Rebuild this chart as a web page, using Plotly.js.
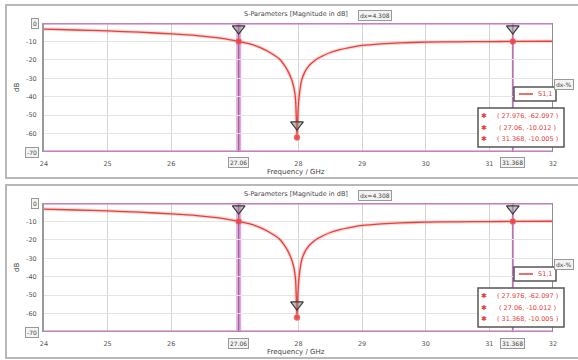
<!DOCTYPE html>
<html>
<head>
<meta charset="utf-8">
<script src="https://cdn.plot.ly/plotly-3.0.1.min.js"></script>
<style>
html,body{margin:0;padding:0;background:#fff;}
#chart{width:578px;height:360px;}
</style>
</head>
<body>
<div id="chart"></div>
<script>
// ---- data ----
const freq = [24, 24.5, 25, 25.5, 26, 26.4, 26.8, 27.06, 27.25, 27.4, 27.55, 27.7, 27.78, 27.84, 27.89, 27.93, 27.955, 27.976, 27.995, 28.02, 28.05, 28.1, 28.15, 28.2, 28.3, 28.4, 28.5, 28.65, 28.8, 29, 29.3, 29.6, 30, 30.5, 31, 31.368, 32];
const s11 = [-3.3, -3.8, -4.3, -5.0, -5.9, -6.8, -8.3, -10.0, -11.5, -13.4, -16.0, -19.5, -23.0, -26.5, -30.5, -35.5, -42.0, -62.1, -46.0, -37.0, -31.0, -26.5, -23.8, -22.0, -19.3, -17.5, -16.0, -14.5, -13.4, -12.2, -11.3, -10.8, -10.4, -10.2, -10.1, -10.0, -9.9];
const markerX = [27.976, 27.06, 31.368];
const markerY = [-62.097, -10.012, -10.005];
const markerText = ['( 27.976, -62.097 )', '( 27.06, -10.012 )', '( 31.368, -10.005 )'];
const vLineX = [27.06, 31.368];
const vLineLabels = ['27.06', '31.368'];
const xTickVals = [24, 25, 26, 28, 29, 30, 31, 32];
const yTickVals = [-60, -50, -40, -30, -20, -10];
const titleText = 'S-Parameters [Magnitude in dB]';
const dxText = 'dx=4.308';
const seriesName = 'S1,1';

// ---- layout helpers ----
const W = 578, H = 360, ML = 44, MR = 25, MT = 23, MB = 28;
const PW = W - ML - MR, PH = H - MT - MB;
const px = x => (x - ML) / PW;
const py = y => (H - MB - y) / PH;

const panels = [
  {xa: 'x', ya: 'y', off: 0},
  {xa: 'x2', ya: 'y2', off: 180}
];

const RED = '#e5403a';
const PURPLE = '#a4529c';
const data = [];
const shapes = [];
const annotations = [];
const FAM = 'DejaVu Sans, Arial, sans-serif';
const tf = {family: FAM, size: 7, color: '#444'};
const boxStyle = {bgcolor: '#f3f3f3', bordercolor: '#999', borderwidth: 1, borderpad: 1};

function ann(o) {
  return Object.assign({showarrow: false, xanchor: 'center', yanchor: 'middle'}, o);
}

panels.forEach(p => {
  data.push({x: freq, y: s11, xaxis: p.xa, yaxis: p.ya, mode: 'lines', type: 'scatter',
    line: {color: 'rgba(240,120,120,0.3)', width: 3.5, shape: 'spline', smoothing: 0.5}, hoverinfo: 'skip'});
  data.push({x: freq, y: s11, xaxis: p.xa, yaxis: p.ya, mode: 'lines', type: 'scatter', name: seriesName,
    line: {color: RED, width: 1.3, shape: 'spline', smoothing: 0.5}});
  data.push({x: markerX, y: markerY, xaxis: p.xa, yaxis: p.ya, mode: 'markers', type: 'scatter',
    marker: {color: 'rgba(235,70,70,0.9)', size: 6, line: {color: 'rgba(240,120,120,0.6)', width: 1}}});
  data.push({x: markerX, y: markerY.map(v => v + 7), xaxis: p.xa, yaxis: p.ya, mode: 'markers', type: 'scatter',
    marker: {symbol: 'triangle-down', color: 'rgba(150,150,150,0.55)', size: 11, line: {color: '#3a3a3a', width: 1.2}}});

  const xr = p.xa, yr = p.ya;
  shapes.push({type: 'line', xref: xr, yref: yr, x0: vLineX[0], x1: vLineX[0], y0: -70, y1: 0,
    line: {color: 'rgba(215,150,210,0.8)', width: 5}, layer: 'below'});
  shapes.push({type: 'line', xref: xr, yref: yr, x0: vLineX[0], x1: vLineX[0], y0: -70, y1: 0,
    line: {color: PURPLE, width: 1.2}, layer: 'below'});
  shapes.push({type: 'line', xref: xr, yref: yr, x0: vLineX[1], x1: vLineX[1], y0: -70, y1: 0,
    line: {color: 'rgba(180,100,175,0.9)', width: 1.8}, layer: 'below'});
  [0, -70].forEach(v => {
    shapes.push({type: 'line', xref: xr, yref: yr, x0: 24, x1: 32, y0: v, y1: v,
      line: {color: 'rgba(210,150,205,0.7)', width: 4}});
    shapes.push({type: 'line', xref: xr, yref: yr, x0: 24, x1: 32, y0: v, y1: v,
      line: {color: PURPLE, width: 1.2}});
  });
  shapes.push({type: 'line', xref: xr, yref: yr, x0: 32, x1: 32, y0: -70, y1: 0,
    line: {color: '#9a8a98', width: 2}});
  // panel frame
  shapes.push({type: 'rect', xref: 'paper', yref: 'paper', x0: px(6), x1: px(580), y0: py(p.off + 178), y1: py(p.off + 5),
    line: {color: '#b8b8b8', width: 2}, layer: 'below'});
  // legend box
  shapes.push({type: 'rect', xref: 'paper', yref: 'paper', x0: px(514), x1: px(556), y0: py(p.off + 101), y1: py(p.off + 87),
    line: {color: '#555', width: 1.5}, fillcolor: '#fff'});
  shapes.push({type: 'line', xref: 'paper', yref: 'paper', x0: px(519), x1: px(533), y0: py(p.off + 94), y1: py(p.off + 94),
    line: {color: RED, width: 1.5}});
  annotations.push(ann({xref: 'paper', yref: 'paper', x: px(536), y: py(p.off + 94), xanchor: 'left',
    text: seriesName, font: {family: FAM, size: 6.5, color: RED}}));
  // small clipped box top-right
  annotations.push(ann(Object.assign({xref: 'paper', yref: 'paper', x: px(554), y: py(p.off + 84), xanchor: 'left',
    text: 'dx-%', font: {family: FAM, size: 6, color: '#444'}}, boxStyle)));
  // marker table
  shapes.push({type: 'rect', xref: 'paper', yref: 'paper', x0: px(478), x1: px(564), y0: py(p.off + 147), y1: py(p.off + 108),
    line: {color: '#555', width: 1.5}, fillcolor: '#fff'});
  markerText.forEach((t, i) => {
    const yy = p.off + 116 + i * 11.5;
    annotations.push(ann({xref: 'paper', yref: 'paper', x: px(484), y: py(yy),
      text: '✱', font: {family: FAM, size: 7, color: RED}}));
    annotations.push(ann({xref: 'paper', yref: 'paper', x: px(527), y: py(yy),
      text: t, font: {family: FAM, size: 6.5, color: RED}}));
  });
  // title & dx box
  annotations.push(ann({xref: 'paper', yref: 'paper', x: px(296), y: py(p.off + 14),
    text: titleText, font: {family: FAM, size: 6.5, color: '#444'}}));
  annotations.push(ann(Object.assign({xref: 'paper', yref: 'paper', x: px(375), y: py(p.off + 15),
    text: dxText, font: {family: FAM, size: 6, color: '#444'}}, boxStyle)));
  // axis titles
  annotations.push(ann({xref: 'paper', yref: 'paper', x: px(296), y: py(p.off + 172),
    text: 'Frequency / GHz', font: tf}));
  annotations.push(ann({xref: 'paper', yref: 'paper', x: px(17), y: py(p.off + 88),
    text: 'dB', textangle: -90, font: {family: FAM, size: 7, color: '#333'}}));
  // boxed y labels
  [[0, '0'], [-70, '-70']].forEach(([v, t]) => {
    annotations.push(ann(Object.assign({xref: 'paper', yref: yr, x: px(39), y: v, xanchor: 'right',
      text: t, font: {family: FAM, size: 6, color: '#444'}}, boxStyle)));
  });
  // boxed x labels at marker lines
  vLineX.forEach((v, i) => {
    annotations.push(ann(Object.assign({xref: xr, yref: 'paper', x: v, y: py(p.off + 163),
      text: vLineLabels[i], font: {family: FAM, size: 6, color: '#444'}}, boxStyle)));
  });
});

const xax = (anchor) => ({
  range: [24, 32], anchor: anchor, tickvals: xTickVals, ticktext: xTickVals.map(String),
  tickfont: {family: FAM, size: 6.5, color: '#555'}, showgrid: true, gridcolor: '#d4d4d4', gridwidth: 1,
  zeroline: false, showline: false, ticks: '', ticklabelstandoff: 6
});
const yax = (anchor, domain) => ({
  range: [-70, 0], anchor: anchor, domain: domain, tickvals: yTickVals, ticktext: yTickVals.map(String),
  tickfont: {family: FAM, size: 6.5, color: '#555'}, showgrid: true, gridcolor: '#e4e4e4', gridwidth: 1,
  zeroline: false, showline: true, linecolor: '#9a9a9a', linewidth: 2, ticks: '', ticklabelstandoff: 4
});

const layout = {
  width: W, height: H,
  margin: {l: ML, r: MR, t: MT, b: MB, pad: 0},
  paper_bgcolor: '#fff', plot_bgcolor: '#fff',
  showlegend: false,
  xaxis: xax('y'), yaxis: yax('x', [py(152), 1]),
  xaxis2: xax('y2'), yaxis2: yax('x2', [0, py(203)]),
  shapes: shapes, annotations: annotations
};

Plotly.newPlot('chart', data, layout, {staticPlot: true, displayModeBar: false});
</script>
</body>
</html>
